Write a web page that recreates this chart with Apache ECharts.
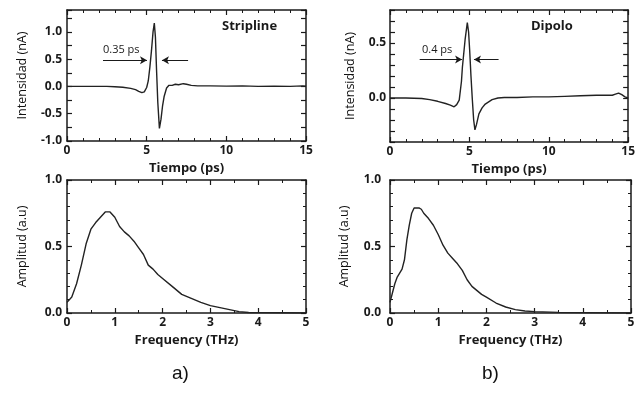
<!DOCTYPE html>
<html>
<head>
<meta charset="utf-8">
<script src="https://cdn.jsdelivr.net/npm/echarts@6/dist/echarts.min.js"></script>
<style>
html,body{margin:0;padding:0;background:#fff;}
#c{width:638px;height:413px;}
</style>
</head>
<body>
<div id="c"></div>
<script>
// ---- Data ----
const stripT = [0,0.5,1,1.5,2,2.5,3,3.5,4,4.3,4.5,4.7,4.85,5.0,5.1,5.2,5.3,5.4,5.48,5.55,5.62,5.7,5.8,5.9,6.0,6.1,6.25,6.4,6.6,6.8,7.0,7.3,7.5,7.8,8.2,9,10,11,12,13,14,14.8,15];
const stripI = [0,0,0,0,0,0,-0.005,-0.015,-0.035,-0.06,-0.09,-0.115,-0.1,-0.02,0.1,0.35,0.65,1.0,1.16,0.9,0.3,-0.3,-0.77,-0.6,-0.35,-0.18,-0.03,0.02,0.02,0.04,0.03,0.05,0.04,0.02,0.01,0.01,0.005,0.01,0,0.005,0,0.01,0.005];

const dipT = [0,1,2,2.5,3,3.5,3.8,4.04,4.2,4.36,4.5,4.56,4.73,4.87,4.95,5.02,5.1,5.18,5.27,5.35,5.45,5.6,5.8,6.0,6.43,6.8,6.9,7.2,8,9,10,11,12,13,14,14.2,14.4,14.6,14.8,15];
const dipI = [0,0,-0.005,-0.015,-0.03,-0.05,-0.065,-0.08,-0.06,-0.02,0.15,0.28,0.53,0.685,0.6,0.43,0.2,0.0,-0.2,-0.29,-0.24,-0.145,-0.09,-0.055,-0.015,0.0,0.015,0.005,0.005,0.01,0.01,0.015,0.02,0.025,0.025,0.035,0.045,0.03,0.01,0.0];

const freqS = [0,0.1,0.2,0.3,0.4,0.5,0.6,0.7,0.8,0.9,1.0,1.1,1.2,1.3,1.4,1.5,1.6,1.7,1.8,1.9,2.0,2.2,2.4,2.6,2.8,3.0,3.2,3.4,3.6,3.8,4.0,4.5,5.0];
const ampS  = [0.08,0.12,0.22,0.36,0.52,0.63,0.68,0.72,0.76,0.76,0.72,0.65,0.61,0.58,0.54,0.49,0.44,0.36,0.33,0.29,0.26,0.2,0.14,0.11,0.08,0.055,0.04,0.025,0.01,0.004,0.003,0.002,0];

const freqD = [0,0.05,0.1,0.15,0.2,0.25,0.3,0.35,0.4,0.45,0.5,0.6,0.65,0.7,0.8,0.9,1.0,1.1,1.2,1.3,1.4,1.5,1.6,1.7,1.8,1.9,2.0,2.2,2.4,2.6,2.8,3.0,3.5,4.0,5.0];
const ampD  = [0.08,0.15,0.22,0.27,0.3,0.33,0.4,0.55,0.66,0.75,0.79,0.79,0.78,0.75,0.71,0.66,0.59,0.51,0.45,0.41,0.37,0.32,0.25,0.2,0.17,0.14,0.12,0.075,0.045,0.025,0.015,0.01,0.005,0.003,0];

// annotation arrows [tailX, tailY, tipX, tipY]
const stripArrows = [[2.26,0.48,5.02,0.48],[7.6,0.48,5.96,0.48]];
const dipArrows   = [[1.87,0.35,4.54,0.35],[6.84,0.35,5.29,0.35]];

const panelTitles = ['Stripline','Dipolo'];
const annotTexts = ['0.35 ps','0.4 ps'];
const timeName = 'Tiempo (ps)';
const intName = 'Intensidad (nA)';
const freqName = 'Frequency (THz)';
const ampName = 'Amplitud (a.u)';

// ---- Chart ----
const chart = echarts.init(document.getElementById('c'));
const BLACK = '#1a1a1a';
const tickFont = {fontFamily:'Open Sans', fontWeight:'bold', fontSize:12, color:BLACK};

const grids = [
  {left:67, top:10, width:239, height:131},
  {left:390, top:10, width:241, height:132},
  {left:67, top:180, width:239, height:133},
  {left:390, top:180, width:241, height:133}
];

function near(v, arr){ return arr.some(a=>Math.abs(v-a)<1e-6); }

function axisCommon(showLabel, minorSplit){
  return {
    axisLine:{show:true, onZero:false, lineStyle:{color:BLACK, width:1.5}},
    axisTick:{show:true, inside:true, length:5, lineStyle:{color:BLACK, width:1.2}},
    minorTick: minorSplit ? {show:true, splitNumber:minorSplit, length:3, lineStyle:{color:BLACK, width:1}} : {show:false},
    splitLine:{show:false},
    axisLabel: showLabel ? Object.assign({}, tickFont) : {show:false}
  };
}

const xAxes = [], yAxes = [];
function addX(gi, min, max, interval, minorSplit, labels, fmt, name){
  const b = Object.assign({type:'value', gridIndex:gi, position:'bottom', min, max, interval}, axisCommon(true, minorSplit));
  b.axisLabel.margin = 4;
  b.axisLabel.formatter = v => near(v, labels) ? fmt(v) : '';
  b.name = name; b.nameLocation = 'middle'; b.nameGap = 21;
  b.nameTextStyle = {fontFamily:'Open Sans', fontWeight:'bold', fontSize:13, color:BLACK};
  xAxes.push(b);
  const t = Object.assign({type:'value', gridIndex:gi, position:'top', min, max, interval}, axisCommon(false, minorSplit));
  xAxes.push(t);
}
function addY(gi, min, max, interval, minorSplit, labels, name, gap, margin){
  const l = Object.assign({type:'value', gridIndex:gi, position:'left', min, max, interval}, axisCommon(true, minorSplit));
  l.axisLabel.margin = margin;
  l.axisLabel.formatter = v => near(v, labels) ? v.toFixed(1) : '';
  l.name = name; l.nameLocation = 'middle'; l.nameGap = gap;
  l.nameTextStyle = {fontFamily:'Open Sans', fontSize:12.5, color:'#111'};
  yAxes.push(l);
  const r = Object.assign({type:'value', gridIndex:gi, position:'right', min, max, interval}, axisCommon(false, minorSplit));
  yAxes.push(r);
}

addX(0, 0, 15, 5, 5, [0,5,10,15], v=>String(v), timeName);
addY(0, -1, 1.4, 0.25, 0, [-1,-0.5,0,0.5,1], intName, 38, 5);
addX(1, 0, 15, 5, 5, [0,5,10,15], v=>String(v), timeName);
addY(1, -0.4, 0.8, 0.1, 0, [0,0.5], intName, 33, 4);
addX(2, 0, 5, 1, 2, [0,1,2,3,4,5], v=>String(v), freqName);
addY(2, 0, 1, 0.5, 5, [0,0.5,1], ampName, 38, 5);
addX(3, 0, 5, 1, 2, [0,1,2,3,4,5], v=>String(v), freqName);
addY(3, 0, 1, 0.5, 5, [0,0.5,1], ampName, 39, 9);

function pairs(xs, ys){ return xs.map((x,i)=>[x, ys[i]]); }
function arrowLines(arr){
  return arr.map(a=>[{coord:[a[0],a[1]]},{coord:[a[2],a[3]]}]);
}

function lineSeries(gi, data, arrows){
  const s = {
    type:'line', xAxisIndex:gi*2, yAxisIndex:gi*2, data, showSymbol:false, symbol:'none',
    smooth:false, lineStyle:{color:'#222', width:1.4}, animation:false, silent:true
  };
  if (arrows){
    s.markLine = {
      silent:true, symbol:['none','arrow'], symbolSize:[6,7], animation:false,
      lineStyle:{color:BLACK, width:1, type:'solid'}, label:{show:false},
      data: arrowLines(arrows)
    };
  }
  return s;
}

const option = {
  backgroundColor:'#fff',
  animation:false,
  grid: grids,
  xAxis: xAxes,
  yAxis: yAxes,
  series: [
    lineSeries(0, pairs(stripT, stripI), stripArrows),
    lineSeries(1, pairs(dipT, dipI), dipArrows),
    lineSeries(2, pairs(freqS, ampS)),
    lineSeries(3, pairs(freqD, ampD))
  ],
  graphic: [
    {type:'text', left:222, top:20, style:{text:panelTitles[0], font:'bold 13px "Open Sans"', fill:BLACK}},
    {type:'text', left:531, top:20, style:{text:panelTitles[1], font:'bold 13px "Open Sans"', fill:BLACK}},
    {type:'text', left:103, top:44, style:{text:annotTexts[0], font:'11px "Open Sans"', fill:BLACK}},
    {type:'text', left:422, top:44, style:{text:annotTexts[1], font:'11px "Open Sans"', fill:BLACK}},
    {type:'text', left:172, top:364, style:{text:'a)', font:'19px "Liberation Sans"', fill:'#111'}},
    {type:'text', left:482, top:364, style:{text:'b)', font:'19px "Liberation Sans"', fill:'#111'}}
  ]
};
chart.setOption(option);
</script>
</body>
</html>
